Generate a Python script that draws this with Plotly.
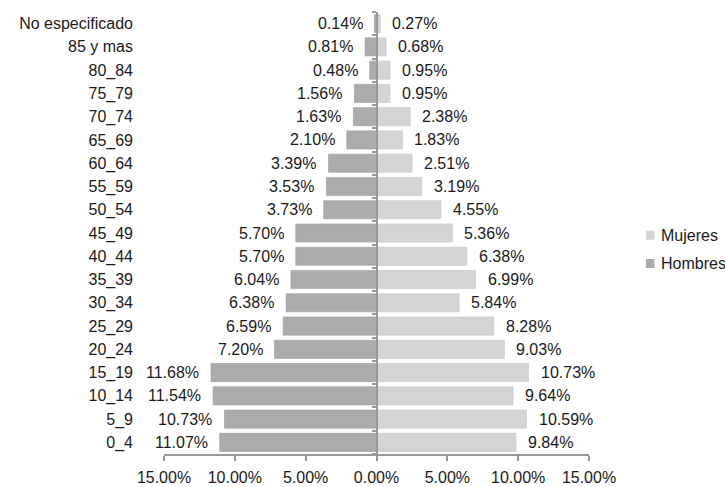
import plotly.graph_objects as go

# Age groups, bottom to top
grupos = ["0_4", "5_9", "10_14", "15_19", "20_24", "25_29", "30_34", "35_39",
          "40_44", "45_49", "50_54", "55_59", "60_64", "65_69", "70_74",
          "75_79", "80_84", "85 y mas", "No especificado"]

# Share of population (%) by sex
hombres = [11.07, 10.73, 11.54, 11.68, 7.20, 6.59, 6.38, 6.04, 5.70, 5.70,
           3.73, 3.53, 3.39, 2.10, 1.63, 1.56, 0.48, 0.81, 0.14]
mujeres = [9.84, 10.59, 9.64, 10.73, 9.03, 8.28, 5.84, 6.99, 6.38, 5.36,
           4.55, 3.19, 2.51, 1.83, 2.38, 0.95, 0.95, 0.68, 0.27]

# x-axis ticks (absolute percentages on both sides)
tick_vals = [-15, -10, -5, 0, 5, 10, 15]
tick_text = ["15.00%", "10.00%", "5.00%", "0.00%", "5.00%", "10.00%", "15.00%"]

# Legend entries (top to bottom)
leyenda = ["Mujeres", "Hombres"]

FONT = "Liberation Sans, Arial, sans-serif"
C_H = "#aaacae"
C_M = "#d3d4d6"
TXT = "#1a1a1a"
AXIS = "#999999"
X_MIN, X_MAX = -15, 15

fig = go.Figure()
fig.add_trace(go.Bar(
    y=grupos, x=mujeres, orientation="h", name="Mujeres", showlegend=False,
    marker=dict(color=C_M, line=dict(color="#c4c5c7", width=0.6)),
    hoverinfo="skip",
))
fig.add_trace(go.Bar(
    y=grupos, x=[-v for v in hombres], orientation="h", name="Hombres",
    showlegend=False,
    marker=dict(color=C_H, line=dict(color="#9c9ea0", width=0.6)),
    hoverinfo="skip",
))

annotations = []
for g, v in zip(grupos, hombres):
    annotations.append(dict(x=-v, y=g, text=f"{v:.2f}%", showarrow=False,
                            xanchor="right", xshift=-10, yanchor="middle",
                            font=dict(family=FONT, size=16, color=TXT)))
for g, v in zip(grupos, mujeres):
    annotations.append(dict(x=v, y=g, text=f"{v:.2f}%", showarrow=False,
                            xanchor="left", xshift=10, yanchor="middle",
                            font=dict(family=FONT, size=16, color=TXT)))

# Compact legend to the right of the plot: small square swatch + label
shapes = []
legend_y = [0.495, 0.431]
for name, col, ly in zip(leyenda, (C_M, C_H), legend_y):
    shapes.append(dict(type="rect", xref="paper", yref="paper",
                       x0=1.134, x1=1.154, y0=ly - 0.0102, y1=ly + 0.0102,
                       fillcolor=col, line=dict(width=0)))
    annotations.append(dict(x=1.165, y=ly, xref="paper", yref="paper",
                            text=name, showarrow=False, xanchor="left",
                            yanchor="middle",
                            font=dict(family=FONT, size=16, color=TXT)))

# Category axis line drawn at x = 0, with ticks between the age groups
n = len(grupos)
boundaries = [i - 0.5 for i in range(n + 1)]
zero_pos = (0 - X_MIN) / (X_MAX - X_MIN)

fig.update_layout(
    width=725, height=487,
    margin=dict(l=164, r=136, t=12, b=33, autoexpand=False),
    paper_bgcolor="white", plot_bgcolor="white",
    barmode="overlay", bargap=0.22,
    font=dict(family=FONT, size=16, color=TXT),
    showlegend=False,
    annotations=annotations,
    shapes=shapes,
    xaxis=dict(range=[X_MIN, X_MAX], tickvals=tick_vals, ticktext=tick_text,
               showgrid=False, zeroline=False, showline=True, linecolor=AXIS,
               linewidth=1.5, ticks="outside", ticklen=5, tickwidth=1.5,
               tickcolor=AXIS, ticklabelstandoff=3, fixedrange=True),
    yaxis=dict(categoryorder="array", categoryarray=grupos, showgrid=False,
               showline=False, ticks="", ticklabelstandoff=30,
               range=[-0.5, n - 0.5], fixedrange=True),
    yaxis2=dict(overlaying="y", anchor="free", position=zero_pos,
                side="left", range=[-0.5, n - 0.5], tickvals=boundaries,
                ticks="outside", ticklen=4, tickwidth=1.5, tickcolor=AXIS,
                showticklabels=False, showgrid=False, zeroline=False,
                showline=True, linecolor=AXIS, linewidth=2,
                fixedrange=True),
)

# Invisible helper trace so the category axis at zero is rendered
fig.add_trace(go.Scatter(x=[0], y=[0], yaxis="y2", mode="markers",
                         marker=dict(opacity=0), showlegend=False,
                         hoverinfo="skip"))

fig.write_html("out.html", config={"displayModeBar": False})
